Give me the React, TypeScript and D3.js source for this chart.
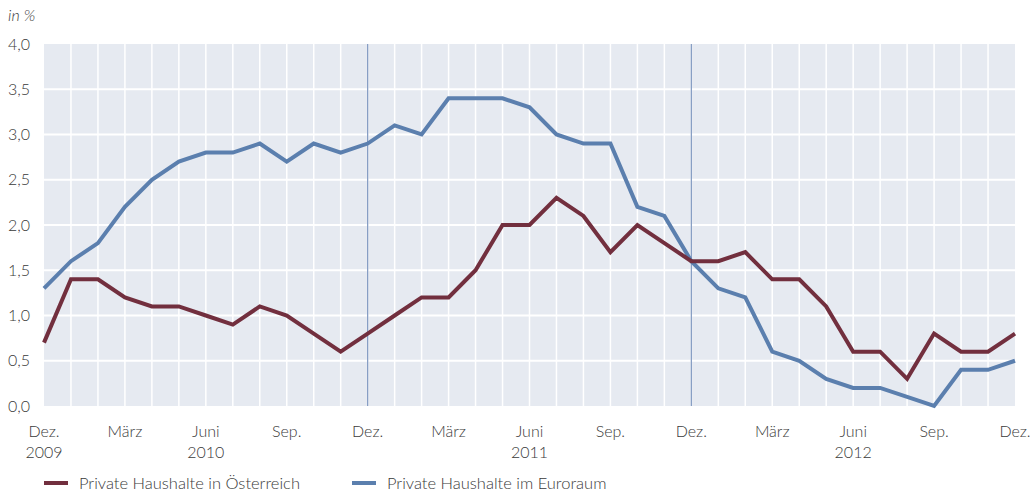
import React from "react";
import * as d3 from "d3";

const months = [
  "Dez.", "", "", "März", "", "", "Juni", "", "", "Sep.", "", "",
  "Dez.", "", "", "März", "", "", "Juni", "", "", "Sep.", "", "",
  "Dez.", "", "", "März", "", "", "Juni", "", "", "Sep.", "", "", "Dez.",
];
const yearLabels: [number, string][] = [[0, "2009"], [6, "2010"], [18, "2011"], [30, "2012"]];
const austria = [
  0.7, 1.4, 1.4, 1.2, 1.1, 1.1, 1.0, 0.9, 1.1, 1.0, 0.8, 0.6,
  0.8, 1.0, 1.2, 1.2, 1.5, 2.0, 2.0, 2.3, 2.1, 1.7, 2.0, 1.8,
  1.6, 1.6, 1.7, 1.4, 1.4, 1.1, 0.6, 0.6, 0.3, 0.8, 0.6, 0.6, 0.8,
];
const euro = [
  1.3, 1.6, 1.8, 2.2, 2.5, 2.7, 2.8, 2.8, 2.9, 2.7, 2.9, 2.8,
  2.9, 3.1, 3.0, 3.4, 3.4, 3.4, 3.3, 3.0, 2.9, 2.9, 2.2, 2.1,
  1.6, 1.3, 1.2, 0.6, 0.5, 0.3, 0.2, 0.2, 0.1, 0.0, 0.4, 0.4, 0.5,
];
const yTicks = [0, 0.5, 1, 1.5, 2, 2.5, 3, 3.5, 4];
const separators = [12, 24];
const seriesNames = ["Private Haushalte in Österreich", "Private Haushalte im Euroraum"];

const W = 1033, H = 497;
const left = 44, right = 1015, top = 44, bottom = 406;
const font = "Lato, 'Open Sans', sans-serif";
const textColor = "#3a3a3a";
const cA = "#722f3e";
const cE = "#5b7fae";

export default function App() {
  const x = d3.scaleLinear().domain([0, months.length - 1]).range([left, right]);
  const y = d3.scaleLinear().domain([0, 4]).range([bottom, top]);
  const line = d3.line<number>().x((_, i) => x(i)).y((d) => y(d));
  const fmt = (v: number) => v.toFixed(1).replace(".", ",");
  return (
    <svg width={W} height={H} style={{ position: "absolute", left: 0, top: 0, display: "block" }}>
      <rect x={left} y={top} width={right - left} height={bottom - top} fill="#e6eaf1" />
      {months.map((_, i) => (i > 0 && i < months.length - 1 ? (
        <line key={"v" + i} x1={x(i)} x2={x(i)} y1={top} y2={bottom} stroke="#fff" strokeWidth={1.5} />
      ) : null))}
      {yTicks.map((t) => (t > 0 && t < 4 ? (
        <line key={"h" + t} x1={left} x2={right} y1={y(t)} y2={y(t)} stroke="#fff" strokeWidth={2} />
      ) : null))}
      {separators.map((s) => (
        <line key={"s" + s} x1={x(s)} x2={x(s)} y1={top} y2={bottom} stroke="#7f98c0" strokeWidth={1.2} />
      ))}
      <path d={line(euro) || ""} fill="none" stroke={cE} strokeWidth={4} strokeLinejoin="miter" />
      <path d={line(austria) || ""} fill="none" stroke={cA} strokeWidth={4} strokeLinejoin="miter" />
      {yTicks.map((t) => (
        <text key={"yl" + t} x={30} y={y(t)} dy="0.35em" textAnchor="end" fontFamily={font} fontWeight={300} fontSize={16} fill={textColor}>
          {fmt(t)}
        </text>
      ))}
      <text x={8} y={21} fontFamily={font} fontWeight={300} fontSize={16} fontStyle="italic" fill={textColor}>in %</text>
      {months.map((m, i) => (m ? (
        <text key={"xl" + i} x={x(i)} y={437} textAnchor="middle" fontFamily={font} fontWeight={300} fontSize={16} fill={textColor}>{m}</text>
      ) : null))}
      {yearLabels.map(([i, lab]) => (
        <text key={"yr" + i} x={x(i)} y={458} textAnchor="middle" fontFamily={font} fontWeight={300} fontSize={16} fill={textColor}>{lab}</text>
      ))}
      {seriesNames.map((n, k) => {
        const lx = k === 0 ? 44 : 352;
        return (
          <g key={n}>
            <line x1={lx} x2={lx + 24} y1={483} y2={483} stroke={k === 0 ? cA : cE} strokeWidth={4} />
            <text x={lx + 35} y={489} fontFamily={font} fontWeight={300} fontSize={16.5} fill={textColor}>{n}</text>
          </g>
        );
      })}
    </svg>
  );
}
